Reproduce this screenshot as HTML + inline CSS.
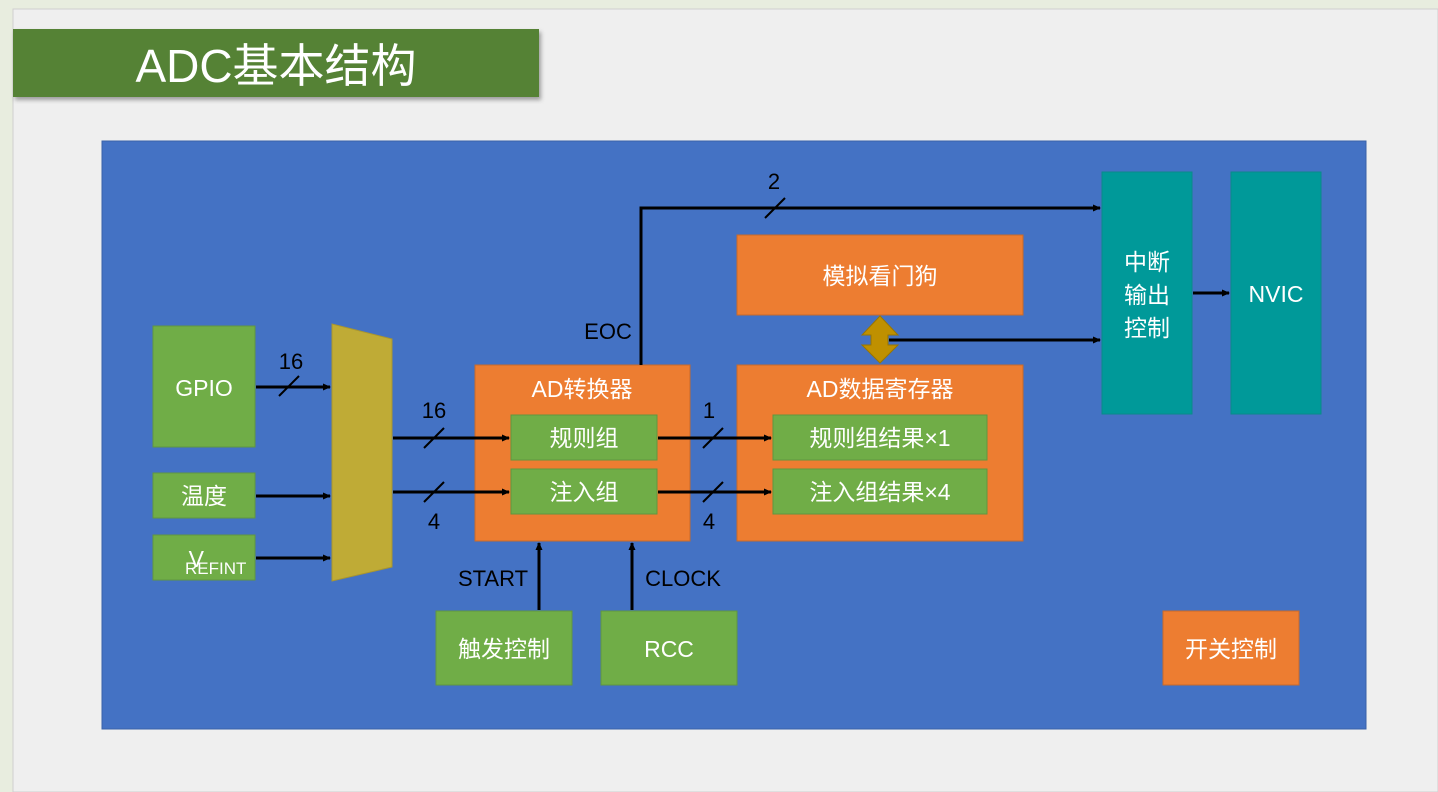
<!DOCTYPE html>
<html><head><meta charset="utf-8"><style>
body{margin:0;width:1438px;height:792px;overflow:hidden;background:#e8eddf;}
svg{display:block}
text{font-family:"Liberation Sans","Noto Sans CJK SC",sans-serif;}
</style></head><body>
<svg width="1438" height="792" viewBox="0 0 1438 792" xmlns="http://www.w3.org/2000/svg">
<defs>
<marker id="a" markerWidth="8" markerHeight="8" refX="7" refY="4" orient="auto" markerUnits="userSpaceOnUse"><path d="M0,0.5 L8,4 L0,7.5z" fill="#000"/></marker>
<filter id="sh"><feDropShadow dx="2" dy="3" stdDeviation="2" flood-color="#000" flood-opacity="0.35"/></filter>
</defs>
<rect x="13" y="9" width="1425" height="783" fill="#efefef" stroke="#cfcfcf"/>
<rect x="13" y="29" width="526" height="68" fill="#548235" filter="url(#sh)"/>
<text x="276" y="82" font-size="46" fill="#fff" text-anchor="middle">ADC基本结构</text>
<rect x="102" y="141" width="1264" height="588" fill="#4472c4" stroke="#3a62a8"/>
<g font-size="23" fill="#fff" text-anchor="middle">
<rect x="153" y="326" width="102" height="121" fill="#70ad47" stroke="#5f9640"/>
<text x="204" y="396">GPIO</text>
<rect x="153" y="473" width="102" height="45" fill="#70ad47" stroke="#5f9640"/>
<text x="204" y="504">温度</text>
<rect x="153" y="535" width="102" height="45" fill="#70ad47" stroke="#5f9640"/>
<text x="204" y="567" text-anchor="end" x="185">V</text>
<text x="185" y="574" font-size="17" text-anchor="start">REFINT</text>
<polygon points="332,324 392,339 392,567 332,581" fill="#bfab36" stroke="#a89530"/>
<rect x="475" y="365" width="215" height="176" fill="#ed7d31" stroke="#c8692a"/>
<text x="582" y="397">AD转换器</text>
<rect x="511" y="415" width="146" height="45" fill="#70ad47" stroke="#5f9640"/>
<text x="584" y="446">规则组</text>
<rect x="511" y="469" width="146" height="45" fill="#70ad47" stroke="#5f9640"/>
<text x="584" y="500">注入组</text>
<rect x="737" y="365" width="286" height="176" fill="#ed7d31" stroke="#c8692a"/>
<text x="880" y="397">AD数据寄存器</text>
<rect x="773" y="415" width="214" height="45" fill="#70ad47" stroke="#5f9640"/>
<text x="880" y="446">规则组结果×1</text>
<rect x="773" y="469" width="214" height="45" fill="#70ad47" stroke="#5f9640"/>
<text x="880" y="500">注入组结果×4</text>
<rect x="737" y="235" width="286" height="80" fill="#ed7d31" stroke="#c8692a"/>
<text x="880" y="284">模拟看门狗</text>
<rect x="1102" y="172" width="90" height="242" fill="#009999" stroke="#0a8a8a"/>
<text x="1147" y="270">中断</text>
<text x="1147" y="303">输出</text>
<text x="1147" y="336">控制</text>
<rect x="1231" y="172" width="90" height="242" fill="#009999" stroke="#0a8a8a"/>
<text x="1276" y="302">NVIC</text>
<rect x="436" y="611" width="136" height="74" fill="#70ad47" stroke="#5f9640"/>
<text x="504" y="657">触发控制</text>
<rect x="601" y="611" width="136" height="74" fill="#70ad47" stroke="#5f9640"/>
<text x="669" y="657">RCC</text>
<rect x="1163" y="611" width="136" height="74" fill="#ed7d31" stroke="#c8692a"/>
<text x="1231" y="657">开关控制</text>
</g>
<polygon points="880,316 898,335 888,335 888,345 898,345 880,363 862,345 871,345 871,335 862,335" fill="#bf9000" stroke="#9a7500"/>
<g stroke="#000" stroke-width="3" fill="none">
<line x1="256" y1="387" x2="330" y2="387" marker-end="url(#a)"/>
<line x1="256" y1="496" x2="330" y2="496" marker-end="url(#a)"/>
<line x1="256" y1="558" x2="330" y2="558" marker-end="url(#a)"/>
<line x1="393" y1="438" x2="509" y2="438" marker-end="url(#a)"/>
<line x1="393" y1="492" x2="509" y2="492" marker-end="url(#a)"/>
<line x1="658" y1="438" x2="771" y2="438" marker-end="url(#a)"/>
<line x1="658" y1="492" x2="771" y2="492" marker-end="url(#a)"/>
<polyline points="641,365 641,208 1100,208" marker-end="url(#a)"/>
<line x1="889" y1="340" x2="1100" y2="340" marker-end="url(#a)"/>
<line x1="1193" y1="293" x2="1229" y2="293" marker-end="url(#a)"/>
<line x1="539" y1="610" x2="539" y2="543" marker-end="url(#a)"/>
<line x1="632" y1="610" x2="632" y2="543" marker-end="url(#a)"/>
</g>
<g stroke="#000" stroke-width="2">
<line x1="279" y1="396" x2="299" y2="376"/>
<line x1="424" y1="448" x2="444" y2="428"/>
<line x1="424" y1="502" x2="444" y2="482"/>
<line x1="703" y1="448" x2="723" y2="428"/>
<line x1="703" y1="502" x2="723" y2="482"/>
<line x1="765" y1="218" x2="785" y2="198"/>
</g>
<g font-size="22" fill="#000" text-anchor="middle">
<text x="291" y="369">16</text>
<text x="434" y="418">16</text>
<text x="434" y="529">4</text>
<text x="709" y="418">1</text>
<text x="709" y="529">4</text>
<text x="774" y="189">2</text>
<text x="608" y="339">EOC</text>
<text x="493" y="586">START</text>
<text x="683" y="586">CLOCK</text>
</g>
</svg>
</body></html>
